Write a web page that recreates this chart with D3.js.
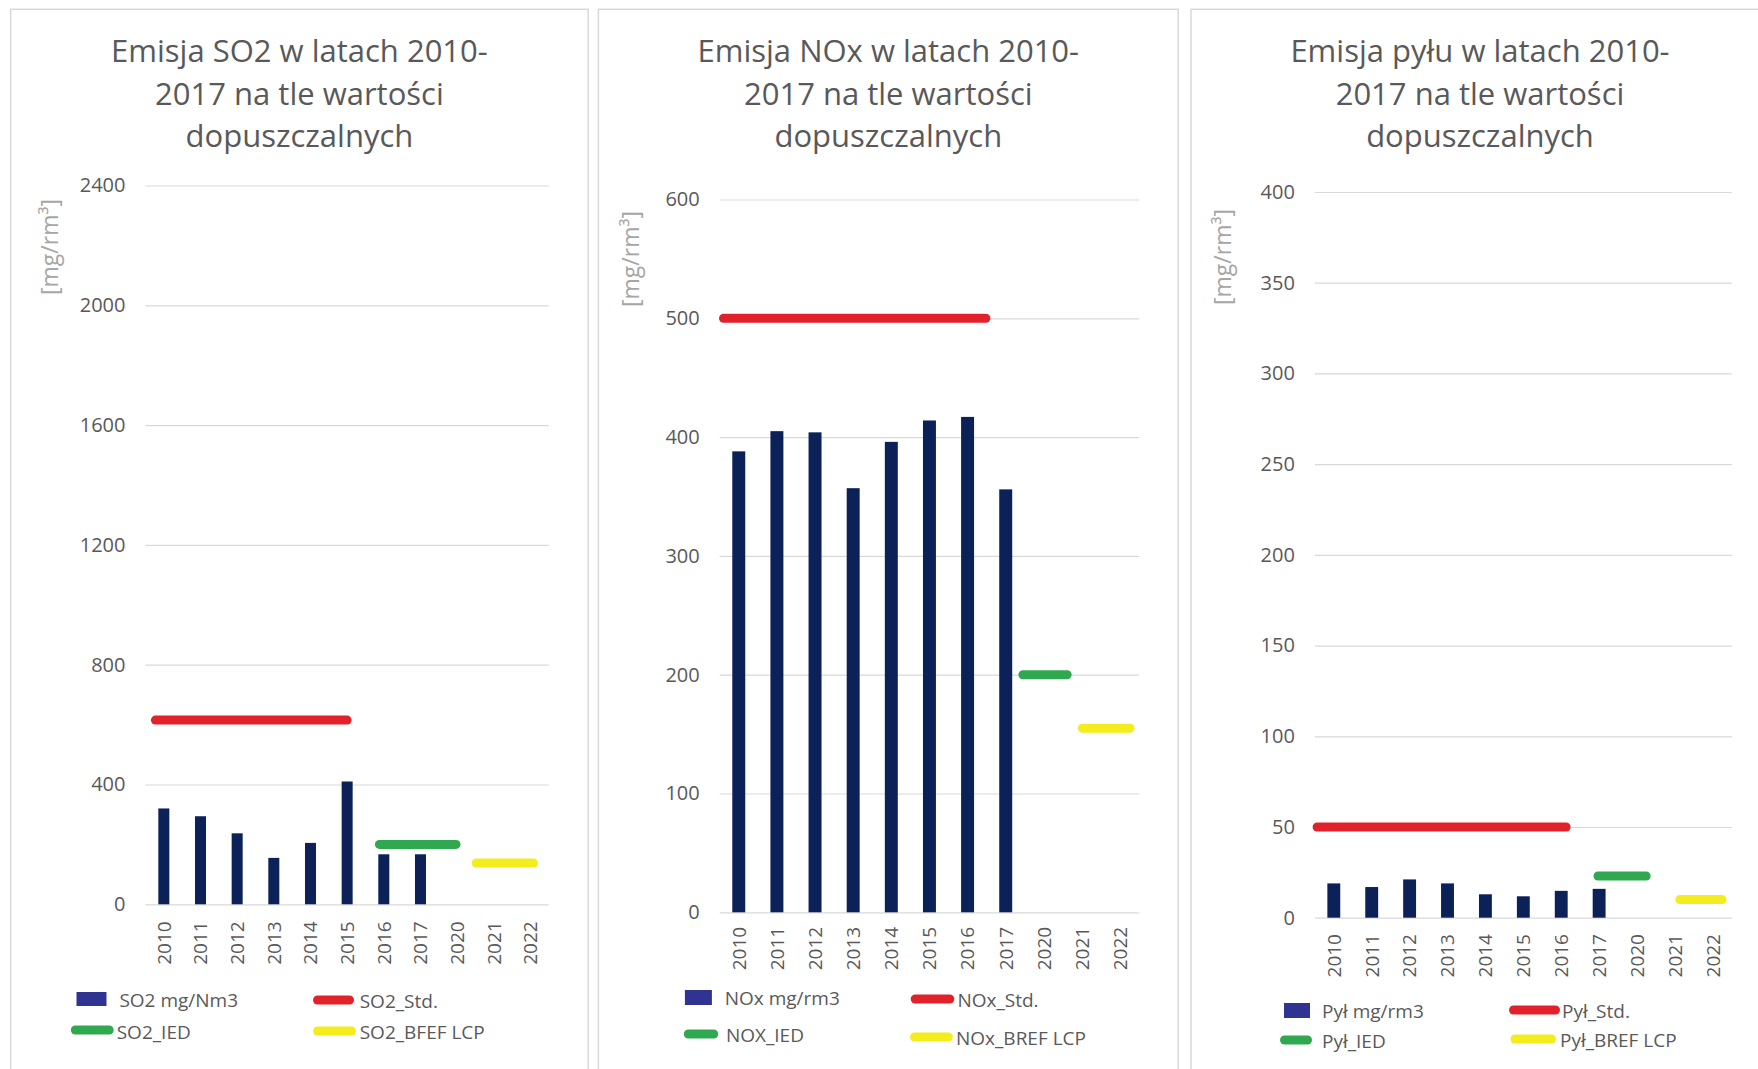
<!DOCTYPE html>
<html>
<head>
<meta charset="utf-8">
<script src="https://cdn.jsdelivr.net/npm/d3@7"></script>
<style>
  html, body { margin: 0; padding: 0; background: #ffffff; }
  svg { display: block; }
  text { font-family: "Open Sans", "Noto Sans", sans-serif; }
</style>
</head>
<body>
<svg id="chart" width="1758" height="1069"></svg>
<script>
// ---------- DATA ----------
const categories = ['2010','2011','2012','2013','2014','2015','2016','2017','2020','2021','2022'];

// measured emissions (bars)
const so2Values = [320, 294, 237, 155, 205, 410, 167, 167, null, null, null];
const noxValues = [388, 405, 404, 357, 396, 414, 417, 356, null, null, null];
const pylValues = [18.9, 16.9, 21.1, 18.9, 12.9, 11.8, 14.8, 15.9, null, null, null];

// y-axis ticks
const so2Ticks = [0, 400, 800, 1200, 1600, 2000, 2400];
const noxTicks = [0, 100, 200, 300, 400, 500, 600];
const pylTicks = [0, 50, 100, 150, 200, 250, 300, 350, 400];

// permissible limits (lines): value and span in category-index units
const so2LimitNames  = ['SO2_Std.', 'SO2_IED', 'SO2_BFEF LCP'];
const so2LimitValues = [615, 200, 138];
const so2LimitSpans  = [[-0.23, 5.0], [5.88, 7.97], [8.52, 10.08]];

const noxLimitNames  = ['NOx_Std.', 'NOX_IED', 'NOx_BREF LCP'];
const noxLimitValues = [500, 200, 155];
const noxLimitSpans  = [[-0.40, 6.48], [7.45, 8.61], [9.01, 10.26]];

const pylLimitNames  = ['Pył_Std.', 'Pył_IED', 'Pył_BREF LCP'];
const pylLimitValues = [50, 23, 10];
const pylLimitSpans  = [[-0.44, 6.13], [6.97, 8.24], [9.13, 10.24]];

const barNames = ['SO2 mg/Nm3', 'NOx mg/rm3', 'Pył mg/rm3'];
const titles = [
  ['Emisja SO2 w latach 2010-', '2017 na tle wartości', 'dopuszczalnych'],
  ['Emisja NOx w latach 2010-', '2017 na tle wartości', 'dopuszczalnych'],
  ['Emisja pyłu w latach 2010-', '2017 na tle wartości', 'dopuszczalnych']
];
const yAxisTitle = '[mg/rm³]';

// ---------- STYLE ----------
const barColor = '#0b2158';
const legendBarColor = '#2f3493';
const limitColors = ['#e2222b', '#2fa84f', '#f4ec1c'];
const textColor = '#595959';
const gridColor = '#d9d9d9';

// ---------- LAYOUT ----------
const panels = [
  { title: titles[0], values: so2Values, ticks: so2Ticks, names: so2LimitNames, limits: so2LimitValues, spans: so2LimitSpans, barName: barNames[0],
    box: { x: 10.7, w: 577.5 }, plot: { L: 145.5, R: 548.8, y0: 904.3, yTop: 185.5 }, barFrac: 0.30, catGap: 17,
    yTitle: { x: 49.5, y: 247 },
    legend: { rect: [76.5, 992, 30, 14], rectText: [119.4, 1000],
      items: [ { x1: 317.5, x2: 349.5, y: 1000, tx: 359.7, ty: 1001 },
               { x1: 75.3, x2: 109.2, y: 1030, tx: 116.7, ty: 1032 },
               { x1: 317.5, x2: 351.5, y: 1031, tx: 359.7, ty: 1032 } ] } },
  { title: titles[1], values: noxValues, ticks: noxTicks, names: noxLimitNames, limits: noxLimitValues, spans: noxLimitSpans, barName: barNames[1],
    box: { x: 598.4, w: 579.8 }, plot: { L: 719.7, R: 1139.2, y0: 912.3, yTop: 199.5 }, barFrac: 0.34, catGap: 14.5,
    yTitle: { x: 631, y: 259 },
    legend: { rect: [684.9, 990, 27, 15], rectText: [724.7, 998],
      items: [ { x1: 915.2, x2: 949.8, y: 999, tx: 957.4, ty: 1000 },
               { x1: 688.3, x2: 713.7, y: 1034, tx: 725.9, ty: 1035 },
               { x1: 914.5, x2: 948.3, y: 1037, tx: 956, ty: 1038 } ] } },
  { title: titles[2], values: pylValues, ticks: pylTicks, names: pylLimitNames, limits: pylLimitValues, spans: pylLimitSpans, barName: barNames[2],
    box: { x: 1191, w: 578 }, plot: { L: 1314.85, R: 1731.8, y0: 917.7, yTop: 192 }, barFrac: 0.34, catGap: 16.3,
    yTitle: { x: 1223, y: 257 },
    legend: { rect: [1284, 1003, 26, 15], rectText: [1322, 1011],
      items: [ { x1: 1513.5, x2: 1555.5, y: 1010, tx: 1562, ty: 1011 },
               { x1: 1284.5, x2: 1307.5, y: 1040, tx: 1322, ty: 1041 },
               { x1: 1515, x2: 1551.5, y: 1039, tx: 1560, ty: 1040 } ] } }
];

const svg = d3.select('#chart');

panels.forEach(p => {
  const g = svg.append('g');

  // panel border
  g.append('rect')
    .attr('x', p.box.x).attr('y', 9.3)
    .attr('width', p.box.w).attr('height', 1100)
    .attr('fill', '#ffffff').attr('stroke', gridColor).attr('stroke-width', 1.5);

  // title
  const cx = p.box.x + p.box.w / 2;
  g.append('g').selectAll('text').data(p.title).join('text')
    .attr('x', cx).attr('y', (d, i) => 62.3 + i * 42.3)
    .attr('text-anchor', 'middle').attr('fill', textColor)
    .attr('font-size', 31).text(d => d);

  // scales
  const x = d3.scaleBand().domain(categories).range([p.plot.L, p.plot.R]).paddingInner(0).paddingOuter(0);
  const xPos = d3.scaleLinear().domain([-0.5, categories.length - 0.5]).range([p.plot.L, p.plot.R]);
  const y = d3.scaleLinear().domain([0, d3.max(p.ticks)]).range([p.plot.y0, p.plot.yTop]);

  // gridlines + y labels via axis
  const yAxis = d3.axisLeft(y).tickValues(p.ticks).tickSize(-(p.plot.R - p.plot.L)).tickPadding(20).tickFormat(d3.format('d'));
  const ya = g.append('g').attr('transform', `translate(${p.plot.L},0)`).call(yAxis);
  ya.select('.domain').remove();
  ya.selectAll('.tick line').attr('stroke', gridColor).attr('stroke-width', 1.2);
  ya.selectAll('.tick text').attr('fill', textColor).attr('font-size', 20)
    .attr('font-family', '"Open Sans", sans-serif');

  // x axis labels (rotated)
  const xAxis = d3.axisBottom(x).tickSize(0).tickPadding(0);
  const xa = g.append('g').attr('transform', `translate(0,${p.plot.y0})`).call(xAxis);
  xa.select('.domain').remove();
  xa.selectAll('.tick text')
    .attr('fill', textColor).attr('font-size', 19)
    .attr('font-family', '"Open Sans", sans-serif')
    .attr('text-anchor', 'end')
    .attr('transform', `translate(0,${p.catGap}) rotate(-90)`)
    .attr('x', 0).attr('y', 0).attr('dy', '0.36em');

  // bars
  const bw = x.bandwidth() * p.barFrac;
  g.append('g').selectAll('rect')
    .data(categories.map((c, i) => ({ c, v: p.values[i] })).filter(d => d.v != null))
    .join('rect')
    .attr('x', d => x(d.c) + (x.bandwidth() - bw) / 2)
    .attr('width', bw)
    .attr('y', d => y(d.v))
    .attr('height', d => y(0) - y(d.v))
    .attr('fill', barColor);

  // limit lines
  g.append('g').selectAll('line')
    .data(p.limits.map((v, i) => ({ v, s: p.spans[i], c: limitColors[i] })))
    .join('line')
    .attr('x1', d => xPos(d.s[0])).attr('x2', d => xPos(d.s[1]))
    .attr('y1', d => y(d.v)).attr('y2', d => y(d.v))
    .attr('stroke', d => d.c).attr('stroke-width', 9).attr('stroke-linecap', 'round');

  // y axis title
  g.append('text')
    .attr('transform', `translate(${p.yTitle.x},${p.yTitle.y}) rotate(-90)`)
    .attr('text-anchor', 'middle').attr('dy', '0.35em')
    .attr('fill', '#a6a6a6').attr('font-size', 23)
    .text(yAxisTitle);

  // legend
  const lg = g.append('g');
  const r = p.legend.rect;
  lg.append('rect').attr('x', r[0]).attr('y', r[1]).attr('width', r[2]).attr('height', r[3]).attr('fill', legendBarColor);
  lg.append('text').attr('x', p.legend.rectText[0]).attr('y', p.legend.rectText[1])
    .attr('dy', '0.35em').attr('fill', textColor).attr('font-size', 19).text(p.barName);
  p.legend.items.forEach((it, i) => {
    lg.append('line').attr('x1', it.x1).attr('x2', it.x2).attr('y1', it.y).attr('y2', it.y)
      .attr('stroke', limitColors[i]).attr('stroke-width', 9).attr('stroke-linecap', 'round');
    lg.append('text').attr('x', it.tx).attr('y', it.ty).attr('dy', '0.35em')
      .attr('fill', textColor).attr('font-size', 19).text(p.names[i]);
  });
});
</script>
</body>
</html>
